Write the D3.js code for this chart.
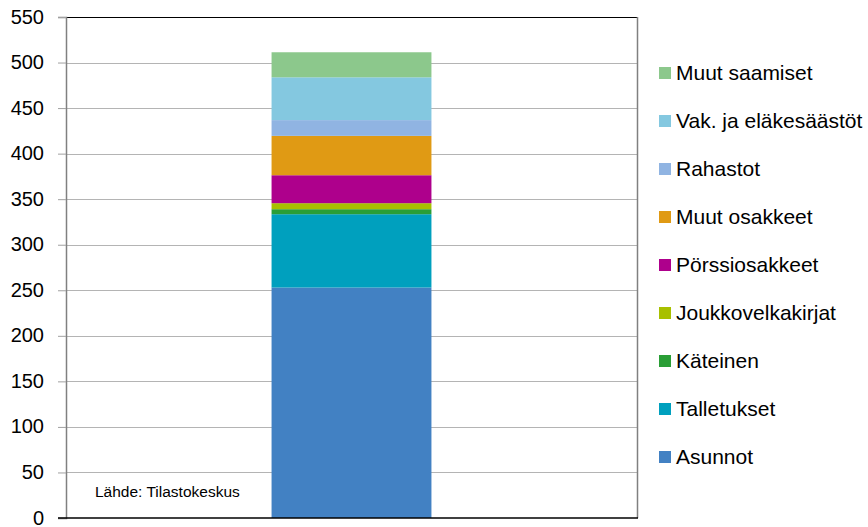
<!DOCTYPE html>
<html>
<head>
<meta charset="utf-8">
<script src="https://cdn.jsdelivr.net/npm/d3@7"></script>
<style>
	body { margin: 0; background: #fff; }
	text { font-family: "Liberation Sans", Arial, sans-serif; fill: #000; }
</style>
</head>
<body>
<svg id="chart" width="868" height="527"></svg>
<script>
// data, bottom to top of the stack
var categories = ["Asunnot", "Talletukset", "Käteinen", "Joukkovelkakirjat", "Pörssiosakkeet",
	"Muut osakkeet", "Rahastot", "Vak. ja eläkesäästöt", "Muut saamiset"];
var values = [253, 80.5, 5.5, 6.6, 30.7, 43.2, 17.3, 47, 27.5];
var colors = ["#4281c3", "#00a0be", "#2a9e36", "#a8c000", "#ae008c",
	"#e09a14", "#90b4e2", "#84c8e0", "#8cc88c"];
var yTicks = [0, 50, 100, 150, 200, 250, 300, 350, 400, 450, 500, 550];
var source = "Lähde: Tilastokeskus";

var margin = { left: 66, right: 231, top: 17, bottom: 9 };
var width = 868 - margin.left - margin.right;
var height = 527 - margin.top - margin.bottom;

var svg = d3.select("#chart");
var g = svg.append("g").attr("transform", "translate(" + margin.left + "," + margin.top + ")");

var xScale = d3.scaleBand().domain(["x"]).range([0, width]).paddingInner(0.72).paddingOuter(0.36);
var yScale = d3.scaleLinear().domain([0, 550]).range([height, 0]);

// gridlines
g.selectAll("line.grid")
	.data(yTicks.slice(1, -1))
	.enter().append("line")
	.attr("class", "grid")
	.attr("x1", 0).attr("x2", width)
	.attr("y1", function(d) { return Math.round(yScale(d)) + 0.5; })
	.attr("y2", function(d) { return Math.round(yScale(d)) + 0.5; })
	.attr("stroke", "#b4b4b4").attr("stroke-width", 1);

// stacked segments
var stack = [];
var cum = 0;
values.forEach(function(v, i) {
	stack.push({ name: categories[i], y0: cum, y1: cum + v, color: colors[i] });
	cum += v;
});

g.selectAll("rect.seg")
	.data(stack)
	.enter().append("rect")
	.attr("class", "seg")
	.attr("x", xScale("x"))
	.attr("width", xScale.bandwidth())
	.attr("y", function(d) { return yScale(d.y1); })
	.attr("height", function(d) { return yScale(d.y0) - yScale(d.y1); })
	.attr("fill", function(d) { return d.color; });

// frame: top black, right gray
g.append("line").attr("x1", 0).attr("x2", width).attr("y1", 0.5).attr("y2", 0.5)
	.attr("stroke", "#000");
g.append("line").attr("x1", width + 0.5).attr("x2", width + 0.5).attr("y1", 0).attr("y2", height)
	.attr("stroke", "#808080").attr("stroke-width", 1.5);

// y axis
var yAxis = d3.axisLeft(yScale).tickValues(yTicks).tickSize(8).tickPadding(14);
var ya = g.append("g").call(yAxis);
ya.select(".domain").attr("stroke", "#808080").attr("stroke-width", 1.5);
ya.selectAll(".tick line").attr("stroke", "#a0a0a0");
ya.selectAll(".tick text").style("font-size", "20px").attr("fill", "#000").attr("dy", "0.3em");

// bottom axis line
g.append("line").attr("x1", -8).attr("x2", width + 1).attr("y1", height).attr("y2", height)
	.attr("stroke", "#000").attr("stroke-width", 1.5);

// source
g.append("text").attr("x", 29).attr("y", 480).style("font-size", "15.5px").text(source);

// legend, top item is last category
var legend = svg.append("g").attr("transform", "translate(659,73)");
var legItems = stack.slice().reverse();
var item = legend.selectAll("g.item")
	.data(legItems)
	.enter().append("g")
	.attr("class", "item")
	.attr("transform", function(d, i) { return "translate(0," + (i * 48) + ")"; });
item.append("rect").attr("x", 0).attr("y", -6).attr("width", 12).attr("height", 12)
	.attr("fill", function(d) { return d.color; });
item.append("text").attr("x", 17).attr("y", 0).attr("dy", "0.35em")
	.style("font-size", "21px").text(function(d) { return d.name; });
</script>
</body>
</html>
